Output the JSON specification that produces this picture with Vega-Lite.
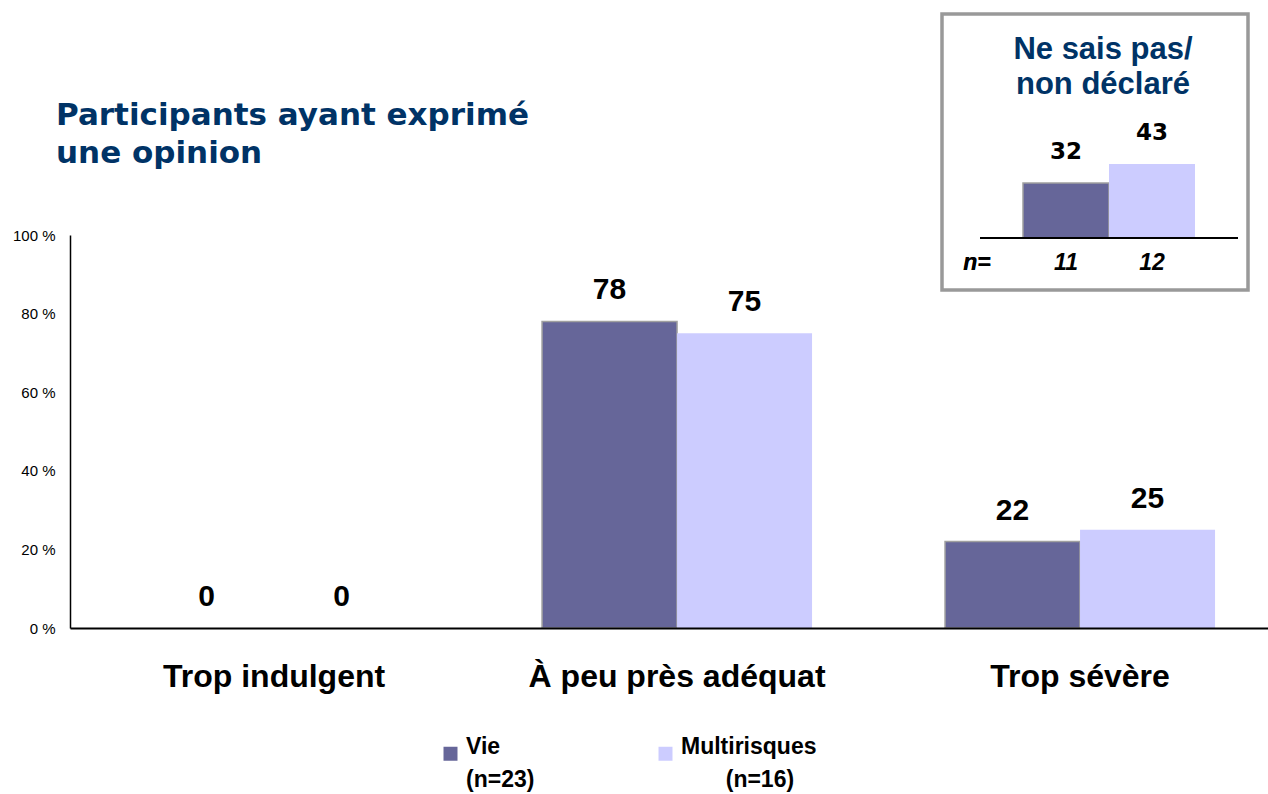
{
  "$schema": "https://vega.github.io/schema/vega-lite/v6.json",
  "width": 1198,
  "height": 393,
  "autosize": "none",
  "padding": {"left": 70, "top": 235, "right": 0, "bottom": 166},
  "background": "white",
  "config": {
    "view": {"stroke": null},
    "font": "Liberation Sans",
    "style": {"guide-label": {"lineHeight": 33}}
  },
  "title": {
    "text": ["Participants ayant exprimé", "une opinion"],
    "anchor": "start",
    "frame": "group",
    "font": "DejaVu Sans",
    "fontWeight": "bold",
    "fontSize": 31,
    "color": "#003366",
    "lineHeight": 38,
    "offset": -158,
    "dx": -14
  },
  "datasets": {
    "main": [
      {"cat": "Trop indulgent", "series": "Vie", "value": 0},
      {"cat": "Trop indulgent", "series": "Multirisques", "value": 0},
      {"cat": "À peu près adéquat", "series": "Vie", "value": 78},
      {"cat": "À peu près adéquat", "series": "Multirisques", "value": 75},
      {"cat": "Trop sévère", "series": "Vie", "value": 22},
      {"cat": "Trop sévère", "series": "Multirisques", "value": 25}
    ],
    "inset": [
      {"series": "Vie", "value": 32, "n": "11"},
      {"series": "Multirisques", "value": 43, "n": "12"}
    ],
    "box": [
      {"k": "box", "title": ["Ne sais pas/", "non déclaré"]}
    ]
  },
  "layer": [
    {
      "data": {"name": "main"},
      "encoding": {
        "x": {
          "field": "cat",
          "type": "nominal",
          "sort": ["Trop indulgent", "À peu près adéquat", "Trop sévère"],
          "scale": {"paddingInner": 0.33, "paddingOuter": 0.1514, "align": 0.566},
          "title": null,
          "axis": {
            "labelFont": "Liberation Sans",
            "labelFontWeight": "bold",
            "labelFontSize": 32,
            "labelColor": "black",
            "labelPadding": 33,
            "labelAngle": 0,
            "labelLimit": 0,
            "ticks": false,
            "domainColor": "black",
            "domainWidth": 2,
            "zindex": 1
          }
        },
        "xOffset": {
          "field": "series",
          "type": "nominal",
          "sort": ["Vie", "Multirisques"],
          "scale": {"paddingInner": 0, "paddingOuter": 0}
        },
        "y": {
          "field": "value",
          "type": "quantitative",
          "scale": {"domain": [0, 100], "nice": false},
          "title": null,
          "axis": {
            "values": [0, 20, 40, 60, 80, 100],
            "labelExpr": "datum.value + ' %'",
            "labelFont": "Liberation Sans",
            "labelFontSize": 15,
            "labelColor": "black",
            "labelPadding": 15,
            "ticks": false,
            "grid": false,
            "domainColor": "black",
            "domainWidth": 1.5,
            "zindex": 1
          }
        }
      },
      "layer": [
        {
          "mark": {"type": "bar", "stroke": "#A0A0A0", "strokeWidth": 1.5},
          "encoding": {
            "color": {
              "field": "series",
              "type": "nominal",
              "scale": {"domain": ["Vie", "Multirisques"], "range": ["#666699", "#CCCCFF"]},
              "legend": {
                "orient": "none",
                "legendX": 369,
                "legendY": 507,
                "direction": "horizontal",
                "title": null,
                "symbolType": "square",
                "symbolSize": 196,
                "symbolStrokeWidth": 0,
                "labelFont": "Liberation Sans",
                "labelFontWeight": "bold",
                "labelFontSize": 23,
                "labelColor": "black",
                "labelOffset": 4,
                "labelBaseline": "alphabetic",
                "labelLimit": 0,
                "columnPadding": 119,
                "labelExpr": "datum.label == 'Vie' ? ['Vie', '(n=23)'] : ['Multirisques', '\u200b\u00a0\u00a0\u00a0\u00a0\u00a0\u00a0\u00a0(n=16)']"
              }
            },
            "strokeOpacity": {
              "condition": {"test": "datum.series === 'Vie' && datum.value > 0", "value": 1},
              "value": 0
            }
          }
        },
        {
          "mark": {
            "type": "text",
            "font": "Liberation Sans",
            "fontWeight": "bold",
            "fontSize": 30,
            "color": "black",
            "baseline": "alphabetic",
            "align": "center",
            "dy": -22
          },
          "encoding": {"text": {"field": "value", "type": "quantitative"}}
        }
      ]
    },
    {
      "data": {"name": "box"},
      "encoding": {
        "x": {
          "field": "k",
          "type": "nominal",
          "scale": {"range": [872, 1178], "paddingInner": 0, "paddingOuter": 0},
          "axis": null
        }
      },
      "layer": [
        {
          "mark": {"type": "rect", "fill": "white", "stroke": "#999999", "strokeWidth": 3.5},
          "encoding": {
            "y": {
              "field": "k",
              "type": "nominal",
              "scale": {"range": [-221, 55], "paddingInner": 0, "paddingOuter": 0},
              "axis": null
            }
          }
        },
        {
          "mark": {
            "type": "text",
            "font": "Liberation Sans",
            "fontWeight": "bold",
            "fontSize": 31,
            "color": "#003366",
            "baseline": "alphabetic",
            "align": "center",
            "lineHeight": 35,
            "dy": 45,
            "dx": 8
          },
          "encoding": {
            "y": {"field": "k", "type": "nominal", "bandPosition": 0, "axis": null},
            "text": {"field": "title"}
          }
        }
      ]
    },
    {
      "data": {"name": "inset"},
      "encoding": {
        "x": {
          "field": "series",
          "type": "nominal",
          "scale": {
            "domain": ["n=", "Vie", "Multirisques", "end"],
            "range": [867, 1211],
            "paddingInner": 0,
            "paddingOuter": 0
          },
          "axis": null
        }
      },
      "layer": [
        {
          "mark": {"type": "bar", "stroke": "#A0A0A0", "strokeWidth": 1.5},
          "encoding": {
            "y": {
              "field": "value",
              "type": "quantitative",
              "scale": {"domain": [0, 100], "range": [3, -169], "nice": false},
              "axis": null
            },
            "color": {"field": "series", "type": "nominal"},
            "strokeOpacity": {
              "condition": {"test": "datum.series === 'Vie'", "value": 1},
              "value": 0
            }
          }
        },
        {
          "mark": {
            "type": "text",
            "font": "DejaVu Sans",
            "fontWeight": "bold",
            "fontSize": 23,
            "color": "black",
            "baseline": "alphabetic",
            "align": "center",
            "dy": -24
          },
          "encoding": {
            "y": {"field": "value", "type": "quantitative"},
            "text": {"field": "value", "type": "quantitative"}
          }
        },
        {
          "mark": {
            "type": "text",
            "font": "Liberation Sans",
            "fontWeight": "bold",
            "fontStyle": "italic",
            "fontSize": 23,
            "color": "black",
            "baseline": "alphabetic",
            "align": "center",
            "dy": 32
          },
          "encoding": {
            "y": {"datum": 0, "type": "quantitative"},
            "text": {"field": "n"}
          }
        },
        {
          "mark": {
            "type": "text",
            "text": "n=",
            "font": "Liberation Sans",
            "fontWeight": "bold",
            "fontStyle": "italic",
            "fontSize": 23,
            "color": "black",
            "baseline": "alphabetic",
            "align": "center",
            "dy": 32,
            "dx": -3
          },
          "encoding": {
            "x": {"datum": "n="},
            "y": {"datum": 0, "type": "quantitative"}
          }
        },
        {
          "mark": {"type": "rule", "color": "black", "strokeWidth": 2},
          "encoding": {
            "x": {"datum": "n="},
            "x2": {"datum": "end"},
            "y": {"datum": 0, "type": "quantitative"}
          }
        }
      ]
    }
  ],
  "resolve": {
    "scale": {"x": "independent", "y": "independent"},
    "axis": {"x": "independent", "y": "independent"}
  }
}
